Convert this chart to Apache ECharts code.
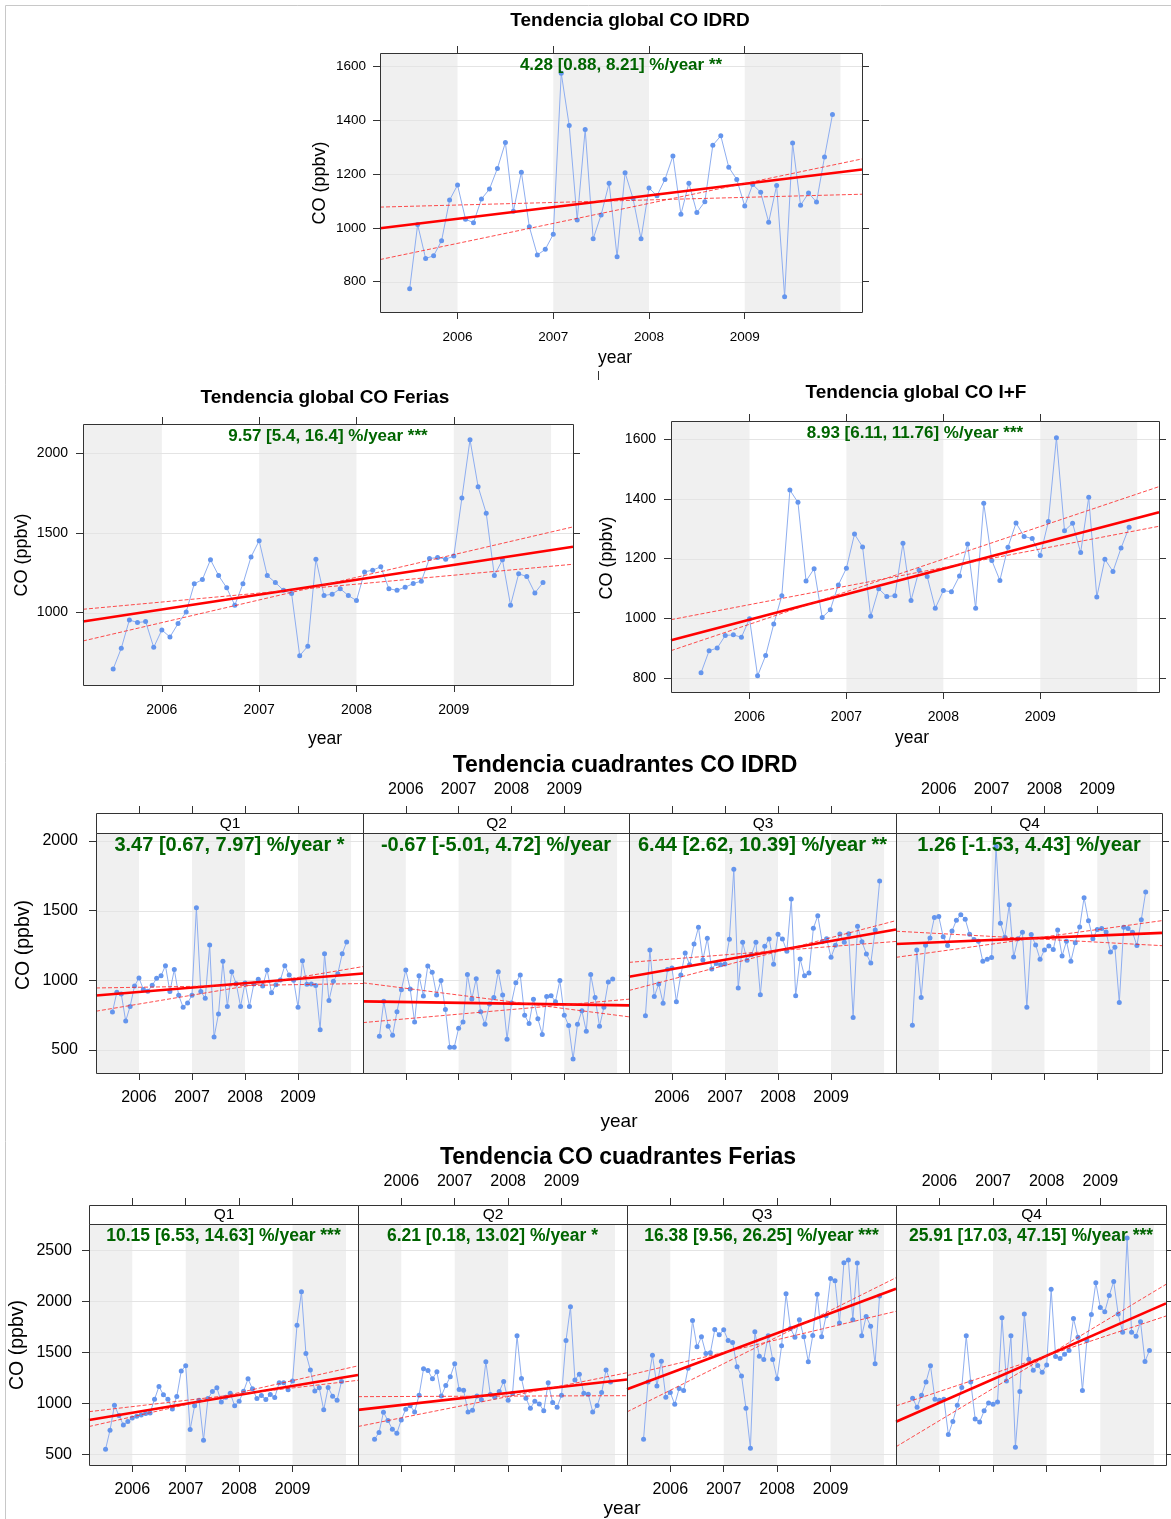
<!DOCTYPE html>
<html>
<head>
<meta charset="utf-8">
<title>Tendencias CO</title>
<script src="https://cdn.jsdelivr.net/npm/echarts@6/dist/echarts.min.js"></script>
<style>
  html, body { margin: 0; padding: 0; background: #fff; }
  #chart { width: 1171px; height: 1519px; }
</style>
</head>
<body>
<div id="chart"></div>
<script>
// ---- data: monthly mean CO (ppbv), July 2005 .. December 2009 ----
const firstMonth = [2005, 7];
const yearTicks = [2006, 2007, 2008, 2009];
const shadedYears = [[2005, 2006], [2007, 2008], [2009, 2010]];
const xRange = [2005.19, 2010.225];

const coIdrd = [773,1012,886,896,952,1103,1159,1032,1019,1107,1144,1221,1317,1062,1207,1004,899,920,976,1575,1380,1029,1366,959,1048,1166,892,1205,1109,959,1148,1119,1180,1267,1050,1166,1057,1097,1307,1342,1225,1180,1081,1161,1132,1021,1157,744,1315,1084,1129,1096,1263,1421];
const coFerias = [646,776,954,937,944,782,891,847,931,1004,1180,1207,1331,1232,1155,1046,1180,1349,1450,1232,1188,1140,1119,730,789,1335,1107,1115,1149,1107,1075,1255,1266,1287,1149,1140,1159,1182,1197,1339,1345,1335,1354,1718,2084,1789,1623,1232,1331,1046,1243,1226,1123,1188];
const coIdrdFerias = [818,892,901,943,945,937,999,808,876,981,1076,1429,1388,1125,1166,1003,1029,1112,1168,1282,1239,1007,1099,1073,1076,1251,1060,1161,1140,1034,1093,1089,1142,1249,1034,1385,1194,1127,1238,1319,1274,1267,1210,1324,1604,1293,1318,1220,1405,1072,1198,1157,1235,1305];

const idrdQ1 = [773,914,902,708,813,959,1017,935,921,964,1014,1033,1105,919,1077,892,806,837,892,1521,919,871,1254,593,758,1136,813,1062,976,813,981,813,974,1007,959,1074,911,969,1002,1105,1038,1000,806,1141,971,974,962,646,1191,856,993,1048,1191,1275];
const idrdQ2 = [598,849,670,605,775,933,1074,938,701,1033,888,1103,1057,895,998,790,519,519,656,701,1041,866,1012,775,684,830,876,1062,895,577,837,983,1038,749,691,864,725,612,883,890,847,998,749,675,435,684,782,634,1041,876,670,806,988,1010];
const idrdQ3 = [746,1218,883,974,835,1077,1089,847,1038,1196,1112,1261,1380,1146,1301,1081,1120,1112,1117,1294,1797,945,1273,1144,1184,1273,897,1244,1297,1115,1330,1297,1208,1584,890,1153,1033,1053,1373,1464,1277,1299,1165,1251,1332,1273,1335,734,1388,1277,1189,1124,1361,1713];
const idrdQ4 = [677,1218,876,1251,1304,1450,1457,1313,1249,1354,1431,1471,1438,1330,1292,1280,1136,1151,1163,1960,1409,1309,1543,1167,1299,1344,806,1328,1254,1151,1218,1246,1222,1361,1175,1280,1136,1270,1383,1593,1428,1299,1364,1371,1347,1203,1237,840,1380,1371,1344,1249,1435,1634];

const feriasQ1 = [548,735,980,879,787,820,856,872,885,899,905,1039,1164,1082,1039,944,1065,1317,1367,741,974,1029,637,1046,1115,1151,1013,1059,1098,974,1020,1118,1239,1141,1046,1075,1036,1085,1056,1200,1200,1131,1219,1766,2093,1488,1327,1121,1151,935,1154,1069,1029,1213];
const feriasQ2 = [647,712,912,830,745,705,836,941,974,915,1079,1337,1321,1239,1308,1072,1173,1259,1386,1134,1128,915,931,1072,1033,1406,1085,1059,1115,1213,1029,1098,1661,1242,1049,951,1020,993,925,1200,1007,961,1079,1615,1946,1229,1285,1098,1088,915,977,1105,1327,1209];
const feriasQ3 = [647,1209,1471,1170,1412,1059,1105,990,1144,1124,1344,1812,1553,1651,1488,1494,1723,1671,1720,1615,1596,1357,1268,951,558,1700,1461,1429,1661,1429,1239,1563,2074,1733,1648,1818,1651,1406,1664,2070,1651,1858,2224,2201,1786,2378,2404,1818,2375,1661,1851,1756,1386,2051];
const feriasQ4 = [1049,961,1079,1209,1367,1039,1029,1039,692,820,980,1154,1661,1209,846,817,925,1003,990,1013,1838,1219,1661,568,1115,1874,1432,1324,1370,1304,1376,2119,1458,1439,1481,1517,1831,1648,1124,1615,1871,2182,1939,1897,2057,2195,1874,1697,2620,1697,1658,1799,1409,1517];

// Theil-Sen slopes (%/year): [estimate, lower, upper]; start = trend level at first month
const slopeIdrd = [4.28, 0.88, 8.21],   startIdrd = [1012, 1080, 905],   starsIdrd = '**';
const slopeFerias = [9.57, 5.4, 16.4],  startFerias = [973, 1038, 866],  starsFerias = '***';
const slopeIF = [8.93, 6.11, 11.76],    startIF = [953, 1015, 926],      starsIF = '***';
const slopeIdrdQ = [[3.47, 0.67, 7.97], [-0.67, -5.01, 4.72], [6.44, 2.62, 10.39], [1.26, -1.53, 4.43]];
const startIdrdQ = [[901, 947, 798], [847, 967, 707], [1046, 1138, 958], [1265, 1346, 1181]];
const starsIdrdQ = ['*', '', '**', ''];
const slopeFeriasQ = [[10.15, 6.53, 14.63], [6.21, 0.18, 13.02], [16.38, 9.56, 26.25], [25.91, 17.03, 47.15]];
const startFeriasQ = [[863, 936, 808], [953, 1065, 804], [1197, 1310, 996], [890, 1028, 671]];
const starsFeriasQ = ['***', '*', '***', '***'];

const quadrants = ['Q1', 'Q2', 'Q3', 'Q4'];
const ticksIdrd = [800, 1000, 1200, 1400, 1600];
const ticksFerias = [1000, 1500, 2000];
const ticksIF = [800, 1000, 1200, 1400, 1600];
const ticksIdrdQ = [500, 1000, 1500, 2000];
const ticksFeriasQ = [500, 1000, 1500, 2000, 2500];

// ---- helpers ----
const FONT = "'Liberation Sans', Arial, Helvetica, sans-serif";
const INK = '#333';
const dates = coIdrd.map((_, i) => firstMonth[0] + (firstMonth[1] - 1 + i) / 12);
const x0 = dates[0];

function trendLine(start, pct) {
  return xRange.map(x => [x, start * (1 + pct / 100 * (x - x0))]);
}
function slopeText(p, stars) {
  return (p[0] + ' [' + p[1] + ', ' + p[2] + '] %/year ' + stars).trim();
}

// ---- panel layout ----
const panels = [];
function panel(o) { panels.push(o); }

panel({ values: coIdrd, slope: slopeIdrd, start: startIdrd, stars: starsIdrd,
  box: [380, 53, 482, 259], y: [687, 1650], yTicks: ticksIdrd,
  ticks: { b: 1, t: 1, l: 1, r: 1 }, labels: { b: 1, t: 0, l: 1 },
  tickFont: 13.5, xMargin: 18, yMargin: 14, slopeFont: 17 });
panel({ values: coFerias, slope: slopeFerias, start: startFerias, stars: starsFerias,
  box: [83, 424, 490, 261], y: [546, 2182], yTicks: ticksFerias,
  ticks: { b: 1, t: 1, l: 1, r: 1 }, labels: { b: 1, t: 0, l: 1 },
  tickFont: 14, xMargin: 18, yMargin: 15, slopeFont: 17 });
panel({ values: coIdrdFerias, slope: slopeIF, start: startIF, stars: starsIF,
  box: [671, 421, 488, 271], y: [754, 1660], yTicks: ticksIF,
  ticks: { b: 1, t: 1, l: 1, r: 1 }, labels: { b: 1, t: 0, l: 1 },
  tickFont: 14, xMargin: 18, yMargin: 15, slopeFont: 17 });

const idrdSeries = [idrdQ1, idrdQ2, idrdQ3, idrdQ4];
const idrdLeft = [96, 363, 629, 896], idrdWidth = [267, 266, 267, 266];
idrdSeries.forEach((vals, q) => panel({
  values: vals, slope: slopeIdrdQ[q], start: startIdrdQ[q], stars: starsIdrdQ[q],
  box: [idrdLeft[q], 833, idrdWidth[q], 240], y: [335, 2057], yTicks: ticksIdrdQ,
  strip: quadrants[q], stripH: 20,
  ticks: { b: 1, t: 1, l: q === 0, r: q === 3 }, labels: { b: q % 2 === 0, t: q % 2 === 1, l: q === 0 },
  tickFont: 16, xMargin: 17, topMargin: 15, yMargin: 18, slopeFont: 20 }));

const feriasSeries = [feriasQ1, feriasQ2, feriasQ3, feriasQ4];
const feriasLeft = [89, 358, 627, 896], feriasWidth = [269, 269, 269, 270];
feriasSeries.forEach((vals, q) => panel({
  values: vals, slope: slopeFeriasQ[q], start: startFeriasQ[q], stars: starsFeriasQ[q],
  box: [feriasLeft[q], 1224, feriasWidth[q], 241], y: [394, 2758], yTicks: ticksFeriasQ,
  strip: quadrants[q], stripH: 19,
  ticks: { b: 1, t: 1, l: q === 0, r: q === 3 }, labels: { b: q % 2 === 0, t: q % 2 === 1, l: q === 0 },
  tickFont: 16, xMargin: 17, topMargin: 15, yMargin: 17, slopeFont: 17.5 }));

// ---- build option ----
const option = { animation: false, backgroundColor: '#fff', grid: [], xAxis: [], yAxis: [], series: [], graphic: [] };

function text(str, x, y, size, opts) {
  opts = opts || {};
  option.graphic.push({
    type: 'text', x: x, y: y, rotation: opts.rot || 0, z: 100, silent: true,
    style: { text: str, fill: opts.color || '#000', align: 'center', verticalAlign: 'middle',
      font: (opts.bold ? 'bold ' : '') + size + 'px ' + FONT }
  });
}
function rect(x, y, w, h, fill, z) {
  option.graphic.push({ type: 'rect', z: z || 100, silent: true,
    shape: { x: x + 0.5, y: y + 0.5, width: w, height: h },
    style: { fill: fill || 'rgba(0,0,0,0)', stroke: INK, lineWidth: 1 } });
}

panels.forEach((p, i) => {
  const [L, T, W, H] = p.box;
  option.grid.push({ left: L, top: T, width: W, height: H, show: false, containLabel: false, outerBoundsMode: 'none' });

  const tick = (show, values) => ({ show: !!show, length: 7, inside: false, customValues: values, lineStyle: { color: INK, width: 1 } });
  const lab = (show, values, margin) => ({ show: !!show, customValues: values, margin: margin,
    formatter: v => String(v), fontSize: p.tickFont, color: '#000', fontFamily: FONT });
  const common = { gridIndex: i, type: 'value', axisLine: { show: false }, splitLine: { show: false } };

  option.xAxis.push(Object.assign({}, common, { min: xRange[0], max: xRange[1], position: 'bottom',
    axisTick: tick(p.ticks.b, yearTicks), axisLabel: lab(p.labels.b, yearTicks, p.xMargin) }));
  option.xAxis.push(Object.assign({}, common, { min: xRange[0], max: xRange[1], position: 'top', offset: p.stripH || 0,
    axisTick: tick(p.ticks.t, yearTicks), axisLabel: lab(p.labels.t, yearTicks, p.topMargin || 15) }));
  option.yAxis.push(Object.assign({}, common, { min: p.y[0], max: p.y[1], position: 'left',
    axisTick: tick(p.ticks.l, p.yTicks), axisLabel: lab(p.labels.l, p.yTicks, p.yMargin) }));
  option.yAxis.push(Object.assign({}, common, { min: p.y[0], max: p.y[1], position: 'right',
    axisTick: tick(p.ticks.r, p.yTicks), axisLabel: { show: false } }));

  const axes = { xAxisIndex: 2 * i, yAxisIndex: 2 * i };

  // alternate-year shading
  option.series.push(Object.assign({ type: 'custom', z: 1, silent: true, data: shadedYears,
    encode: { x: [0, 1] },
    renderItem: function (params, api) {
      const cs = params.coordSys;
      const a = api.coord([api.value(0), p.y[0]])[0];
      const b = api.coord([api.value(1), p.y[0]])[0];
      const x1 = Math.max(a, cs.x), x2 = Math.min(b, cs.x + cs.width);
      if (x2 <= x1) return null;
      return { type: 'rect', shape: { x: x1, y: cs.y, width: x2 - x1, height: cs.height }, style: { fill: '#f0f0f0' } };
    } }, axes));

  // horizontal reference lines at the tick values
  option.series.push(Object.assign({ type: 'custom', z: 2, silent: true, data: p.yTicks.map(v => [v]),
    encode: { y: 0 },
    renderItem: function (params, api) {
      const cs = params.coordSys;
      const y = Math.round(api.coord([xRange[0], api.value(0)])[1]) + 0.5;
      return { type: 'line', shape: { x1: cs.x, y1: y, x2: cs.x + cs.width, y2: y }, style: { stroke: '#e4e4e4', lineWidth: 1 } };
    } }, axes));

  // monthly means
  option.series.push(Object.assign({ type: 'line', z: 3, silent: true, showAllSymbol: true,
    data: p.values.map((v, k) => [dates[k], v]),
    symbol: 'circle', symbolSize: 5,
    itemStyle: { color: '#6495ED' },
    lineStyle: { color: '#8eaef0', width: 1 } }, axes));

  // Theil-Sen trend and its confidence limits
  [0, 1, 2].forEach(k => {
    option.series.push(Object.assign({ type: 'line', z: 4, silent: true, symbol: 'none', clip: true,
      data: trendLine(p.start[k], p.slope[k]),
      lineStyle: k === 0 ? { color: '#ff0000', width: 2.6 }
                         : { color: '#ff2020', width: 1, type: [4, 2], opacity: 0.8 } }, axes));
  });

  // frame, strip and slope annotation
  rect(L, T, W, H);
  if (p.strip) {
    rect(L, T - p.stripH, W, p.stripH, '#fff');
    text(p.strip, L + W / 2 + 0.5, T - p.stripH / 2 + 0.5, 15.5);
  }
  text(slopeText(p.slope, p.stars), L + W / 2, T + 12, p.slopeFont, { bold: true, color: '#006400' });
});

// titles and axis names
text('Tendencia global CO IDRD', 630, 21, 19, { bold: true });
text('Tendencia global CO Ferias', 325, 398, 19, { bold: true });
text('Tendencia global CO I+F', 916, 393, 19, { bold: true });
text('Tendencia cuadrantes CO IDRD', 625, 766, 23, { bold: true });
text('Tendencia CO cuadrantes Ferias', 618, 1158, 23, { bold: true });

text('year', 615, 358, 17.5);
text('year', 325, 739, 17.5);
text('year', 912, 738, 17.5);
text('year', 619, 1122, 19);
text('year', 622, 1509, 19);

text('CO (ppbv)', 320, 183, 18, { rot: Math.PI / 2 });
text('CO (ppbv)', 22, 555, 18, { rot: Math.PI / 2 });
text('CO (ppbv)', 607, 558, 18, { rot: Math.PI / 2 });
text('CO (ppbv)', 24, 945, 19.5, { rot: Math.PI / 2 });
text('CO (ppbv)', 18, 1345, 19.5, { rot: Math.PI / 2 });

// page frame
option.graphic.push({ type: 'rect', z: 0, silent: true, shape: { x: 5.5, y: 5.5, width: 1180, height: 1530 },
  style: { fill: 'rgba(0,0,0,0)', stroke: '#c8c8c8', lineWidth: 1 } });
option.graphic.push({ type: 'line', z: 100, silent: true, shape: { x1: 598.5, y1: 371, x2: 598.5, y2: 380 },
  style: { stroke: INK, lineWidth: 1 } });

const chart = echarts.init(document.getElementById('chart'), null, { renderer: 'canvas', width: 1171, height: 1519 });
chart.setOption(option);
</script>
</body>
</html>
